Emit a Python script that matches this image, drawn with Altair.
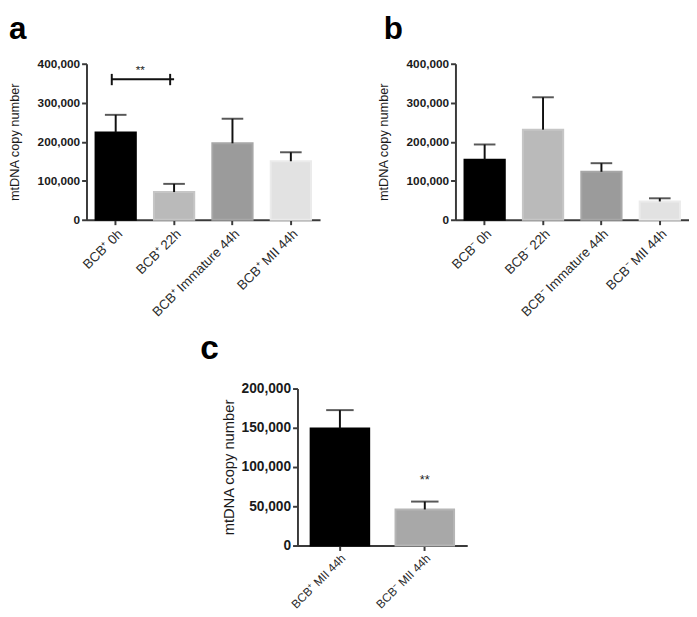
import altair as alt
import pandas as pd

FONT = "Liberation Sans"

# ---- data ----
a_cats = ["BCB⁺ 0h", "BCB⁺ 22h", "BCB⁺ Immature 44h", "BCB⁺ MII 44h"]
a_means = [224000, 71000, 196000, 150000]
a_upper = [269000, 92000, 259000, 173000]

b_cats = ["BCB⁻ 0h", "BCB⁻ 22h", "BCB⁻ Immature 44h", "BCB⁻ MII 44h"]
b_means = [154000, 231000, 123000, 47000]
b_upper = [193000, 314000, 145000, 55000]

c_cats = ["BCB⁺ MII 44h", "BCB⁻ MII 44h"]
c_means = [149000, 46000]
c_upper = [172500, 56000]

four_fill = ["#000000", "#bababa", "#9b9b9b", "#e2e2e2"]
four_stroke = ["#000000", "#c6c6c6", "#a7a7a7", "#ebebeb"]
two_fill = ["#000000", "#a8a8a8"]
two_stroke = ["#000000", "#b6b6b6"]

a_ticks = [0, 100000, 200000, 300000, 400000]
c_ticks = [0, 50000, 100000, 150000, 200000]

Y_TITLE = "mtDNA copy number"


def panel(letter, cats, means, upper, fills, strokes, ymax, ticks,
          lx, ly, lsize, label_size, title_size, title_pad, xlabel_size, cap):
    df = pd.DataFrame({"cat": cats, "mean": means, "upper": upper,
                       "fill": fills, "stroke": strokes})
    base = alt.Chart(df)
    xenc = alt.X("cat:N", sort=cats,
                 scale=alt.Scale(paddingInner=0.31, paddingOuter=0.155),
                 axis=alt.Axis(title=None, labelAngle=-45, labelFontSize=xlabel_size,
                               labelFont=FONT, labelColor="#2a2a2a", labelPadding=2,
                               grid=False))
    yaxis = alt.Axis(title=Y_TITLE, values=ticks, format=",d", labelFontSize=label_size,
                     labelFont=FONT, labelColor="#1a1a1a", labelFontWeight="bold",
                     titleFont=FONT, titleFontSize=title_size, titleFontWeight="normal",
                     titleColor="#1a1a1a", titlePadding=title_pad, labelPadding=2,
                     grid=False)
    yscale = alt.Scale(domain=[0, ymax], nice=False, zero=True)

    bars = base.mark_bar(strokeWidth=2).encode(
        x=xenc,
        y=alt.Y("mean:Q", scale=yscale, axis=yaxis, title=Y_TITLE),
        fill=alt.Color("fill:N", scale=None),
        stroke=alt.Color("stroke:N", scale=None),
    )
    stem = base.mark_rule(strokeWidth=2, color="#111111").encode(
        x=xenc,
        y=alt.Y("mean:Q", scale=yscale, axis=yaxis, title=Y_TITLE),
        y2="upper:Q",
    )
    caps = base.mark_tick(size=cap, thickness=2, color="#111111", orient="horizontal").encode(
        x=xenc,
        y=alt.Y("upper:Q", scale=yscale, axis=yaxis, title=Y_TITLE),
    )
    lab = alt.Chart(pd.DataFrame({"t": [letter]})).mark_text(
        fontSize=lsize, fontWeight="bold", font=FONT, align="left", baseline="top",
        color="#000000"
    ).encode(text="t:N", x=alt.value(lx), y=alt.value(ly))
    return [bars, stem, caps, lab], yscale, yaxis


# panel a
la, ysa, yaa = panel("a", a_cats, a_means, a_upper, four_fill, four_stroke, 400000,
                     a_ticks, -79, -50, 32, 12, 13, 16, 13.5, 22)
brk = pd.DataFrame({"x1": [a_cats[0]], "x2": [a_cats[1]], "y": [360000]})
brk_h = alt.Chart(brk).mark_rule(strokeWidth=2, color="#111111", xOffset=-4).encode(
    x=alt.X("x1:N", sort=a_cats), x2="x2:N",
    y=alt.Y("y:Q", scale=ysa, axis=yaa, title=Y_TITLE))
ends = pd.DataFrame({"cat": a_cats[:2], "lo": [345000, 345000], "hi": [374000, 374000]})
brk_e = alt.Chart(ends).mark_rule(strokeWidth=2, color="#111111", xOffset=-4).encode(
    x=alt.X("cat:N", sort=a_cats),
    y=alt.Y("lo:Q", scale=ysa, axis=yaa, title=Y_TITLE), y2="hi:Q")
stars_a = alt.Chart(pd.DataFrame({"cat": [a_cats[0]], "y": [383000], "t": ["**"]})).mark_text(
    fontSize=12, font=FONT, color="#222222", dx=25, baseline="middle").encode(
    x=alt.X("cat:N", sort=a_cats),
    y=alt.Y("y:Q", scale=ysa, axis=yaa, title=Y_TITLE), text="t:N")
chart_a = alt.layer(*la, brk_h, brk_e, stars_a).properties(width=238, height=159)

# panel b
lb, _, _ = panel("b", b_cats, b_means, b_upper, four_fill, four_stroke, 400000,
                 a_ticks, -73, -50, 32, 12, 13, 16, 13.5, 22)
chart_b = alt.layer(*lb).properties(width=238, height=159)

# panel c
lc, ysc, yac = panel("c", c_cats, c_means, c_upper, two_fill, two_stroke, 200000,
                     c_ticks, -99, -57, 34, 14, 15, 5, 12, 28)
stars_c = alt.Chart(pd.DataFrame({"cat": [c_cats[1]], "y": [84000], "t": ["**"]})).mark_text(
    fontSize=13, font=FONT, color="#222222", baseline="middle").encode(
    x=alt.X("cat:N", sort=c_cats),
    y=alt.Y("y:Q", scale=ysc, axis=yac, title=Y_TITLE), text="t:N")
chart_c = alt.layer(*lc, stars_c).properties(width=173, height=160)

spacer = alt.Chart(pd.DataFrame({"v": [0]})).mark_point(opacity=0).encode(
    x=alt.value(0), y=alt.value(0)).properties(width=96, height=1)

top = alt.hconcat(chart_a, chart_b, spacing=58)
bottom = alt.hconcat(spacer, chart_c, spacing=20)

chart = alt.vconcat(top, bottom, spacing=13).properties(
    padding=0, background="#ffffff"
).configure_view(stroke=None, strokeWidth=0).configure_axis(
    grid=False, domainColor="#3a3a3a", domainWidth=2, tickColor="#3a3a3a",
    tickWidth=2, tickSize=5
)

chart.save("out.html", embed_options={"renderer": "svg", "actions": False})
